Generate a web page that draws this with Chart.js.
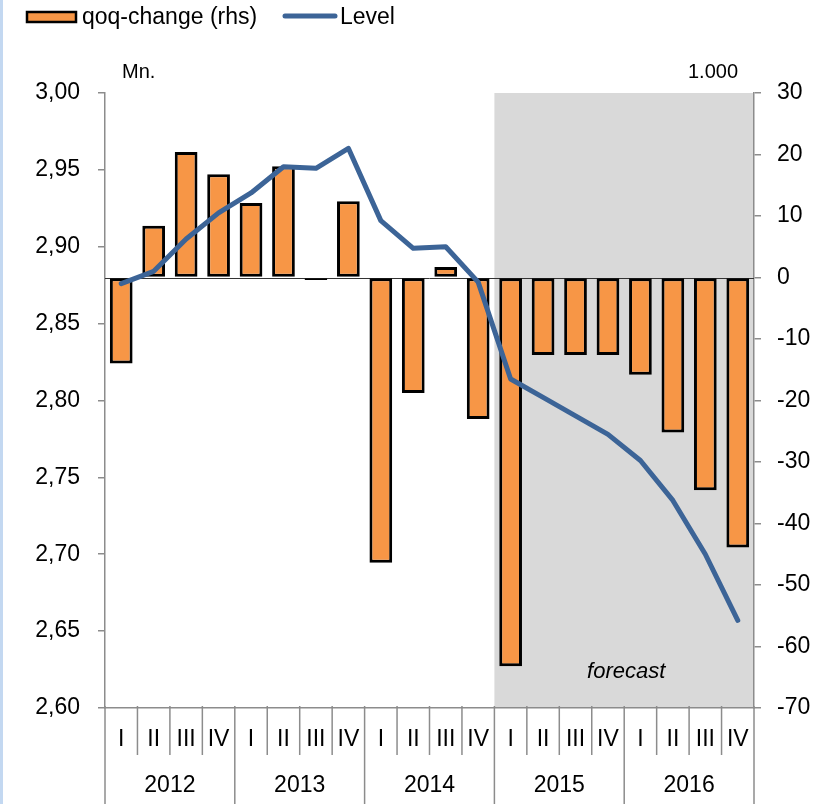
<!DOCTYPE html>
<html>
<head>
<meta charset="utf-8">
<script src="https://cdn.jsdelivr.net/npm/chart.js@4/dist/chart.umd.min.js"></script>
<style>
  html, body { margin: 0; padding: 0; background: #fff; }
  #wrap { position: relative; width: 831px; height: 804px; }
  #edge { position: absolute; left: 0; top: 0; width: 3px; height: 804px; background: #c3d8f1; }
</style>
</head>
<body>
<div id="wrap">
  <canvas id="levelChart" width="831" height="804"></canvas>
  <div id="edge"></div>
</div>
<script>
// data
var years = ["2012", "2013", "2014", "2015", "2016"];
var quarters = ["I", "II", "III", "IV"];
var qoqChange = [-14.0, 8.4, 20.4, 16.8, 12.1, 18.1, -0.4, 12.4,
                 -46.4, -18.8, 1.7, -23.0, -63.2, -12.6, -12.6, -12.6,
                 -15.8, -25.2, -34.6, -43.9];
var level = [2.876, 2.884, 2.905, 2.922, 2.935, 2.952, 2.951, 2.964,
             2.917, 2.899, 2.900, 2.877, 2.814, 2.802, 2.790, 2.778,
             2.761, 2.735, 2.700, 2.657];
var leftTicks = [2.60, 3.00, 0.05];
var rightTicks = [-70, 30, 10];
var forecastFrom = 12; // index of 2015 I

var labels = [];
years.forEach(function (y) {
  quarters.forEach(function (q) { labels.push(q + " " + y); });
});

var FONT = '"Liberation Sans", Arial, sans-serif';
var AXIS_GREY = "#8c8c8c";
var ORANGE = "#f79646";
var BLUE = "#3c6497";

// grey forecast area behind everything in the plot
var forecastShade = {
  id: "forecastShade",
  beforeDraw: function (chart) {
    var ctx = chart.ctx, a = chart.chartArea, x = chart.scales.x;
    var x0 = (x.getPixelForValue(forecastFrom - 1) + x.getPixelForValue(forecastFrom)) / 2;
    ctx.save();
    ctx.fillStyle = "#d9d9d9";
    ctx.fillRect(x0, a.top, a.right - x0 - 0.5, a.bottom - a.top);
    ctx.restore();
  },
  beforeDatasetsDraw: function (chart) {
    var ctx = chart.ctx, a = chart.chartArea;
    var y0 = Math.round(chart.scales.yR.getPixelForValue(0)) + 0.5;
    ctx.save();
    ctx.strokeStyle = "#333";
    ctx.lineWidth = 1;
    ctx.beginPath();
    ctx.moveTo(a.left, y0);
    ctx.lineTo(a.right, y0);
    ctx.stroke();
    ctx.restore();
  }
};

// two-row category axis, legend and the loose text labels
var extras = {
  id: "extras",
  afterDraw: function (chart) {
    var ctx = chart.ctx, a = chart.chartArea, x = chart.scales.x;
    var n = labels.length;
    var step = x.getPixelForValue(1) - x.getPixelForValue(0);
    ctx.save();

    // separators
    ctx.strokeStyle = AXIS_GREY;
    ctx.lineWidth = 1.5;
    for (var i = 0; i <= n; i++) {
      var bx = x.getPixelForValue(0) - step / 2 + i * step;
      var yearEdge = (i % quarters.length === 0);
      ctx.beginPath();
      ctx.moveTo(bx, a.bottom - 2);
      ctx.lineTo(bx, yearEdge ? 804 : a.bottom + 47);
      ctx.stroke();
    }

    ctx.fillStyle = "#000";
    ctx.textAlign = "center";
    ctx.textBaseline = "middle";
    ctx.font = "23px " + FONT;
    for (var j = 0; j < n; j++) {
      ctx.fillText(quarters[j % quarters.length], x.getPixelForValue(j), a.bottom + 32);
    }
    years.forEach(function (y, k) {
      var c = (x.getPixelForValue(k * 4) + x.getPixelForValue(k * 4 + 3)) / 2;
      ctx.fillText(y, c, a.bottom + 78);
    });

    // forecast note
    var fx = (x.getPixelForValue(forecastFrom) - step / 2 + a.right) / 2;
    ctx.font = "italic 22px " + FONT;
    ctx.fillText("forecast", fx + 2, a.bottom - 36);

    // units
    ctx.font = "20px " + FONT;
    ctx.textAlign = "left";
    ctx.fillText("Mn.", a.left + 17, 72);
    ctx.textAlign = "right";
    ctx.fillText("1.000", a.right - 16, 72);

    // legend
    ctx.fillStyle = ORANGE;
    ctx.fillRect(27, 12, 49, 10);
    ctx.strokeStyle = "#000";
    ctx.lineWidth = 2.5;
    ctx.strokeRect(27, 12, 49, 10);
    ctx.fillStyle = "#000";
    ctx.font = "23px " + FONT;
    ctx.textAlign = "left";
    ctx.fillText("qoq-change (rhs)", 82, 18);
    ctx.strokeStyle = BLUE;
    ctx.lineWidth = 5;
    ctx.lineCap = "round";
    ctx.beginPath();
    ctx.moveTo(285, 16);
    ctx.lineTo(335, 16);
    ctx.stroke();
    ctx.fillText("Level", 340, 18);

    ctx.restore();
  }
};

var ctxL = document.getElementById("levelChart").getContext("2d");
var levelChart = new Chart(ctxL, {
  type: "bar",
  data: {
    labels: labels,
    datasets: [{
      type: "line",
      label: "Level",
      data: level,
      yAxisID: "yL",
      borderColor: BLUE,
      borderWidth: 5,
      borderCapStyle: "round",
      borderJoinStyle: "round",
      pointRadius: 0,
      tension: 0,
      order: 0
    }, {
      type: "bar",
      label: "qoq-change (rhs)",
      data: qoqChange,
      yAxisID: "yR",
      backgroundColor: ORANGE,
      borderColor: "#000",
      borderWidth: 3,
      borderSkipped: false,
      categoryPercentage: 1.0,
      barPercentage: 0.7,
      order: 1
    }]
  },
  options: {
    responsive: false,
    animation: false,
    layout: { padding: { top: 93, left: 0, right: 0, bottom: 0 } },
    plugins: { legend: { display: false }, tooltip: { enabled: false } },
    scales: {
      x: {
        grid: { display: false },
        border: { display: true, color: AXIS_GREY, width: 1.5 },
        ticks: { display: false },
        afterFit: function (s) { s.height = 96; }
      },
      yL: {
        position: "left",
        min: leftTicks[0],
        max: leftTicks[1],
        grid: { drawOnChartArea: false, drawTicks: true, tickLength: 7, color: AXIS_GREY, lineWidth: 1.5 },
        border: { color: AXIS_GREY, width: 1.5 },
        ticks: {
          stepSize: leftTicks[2],
          padding: 18,
          color: "#000",
          font: { family: FONT, size: 23 },
          callback: function (v) { return v.toFixed(2).replace(".", ","); }
        },
        afterFit: function (s) { s.width = 105; }
      },
      yR: {
        position: "right",
        min: rightTicks[0],
        max: rightTicks[1],
        grid: { drawOnChartArea: false, drawTicks: true, tickLength: 7, color: AXIS_GREY, lineWidth: 1.5 },
        border: { color: AXIS_GREY, width: 1.5 },
        ticks: {
          stepSize: rightTicks[2],
          padding: 16,
          color: "#000",
          font: { family: FONT, size: 23 }
        },
        afterFit: function (s) { s.width = 77; }
      }
    }
  },
  plugins: [forecastShade, extras]
});
</script>
</body>
</html>
